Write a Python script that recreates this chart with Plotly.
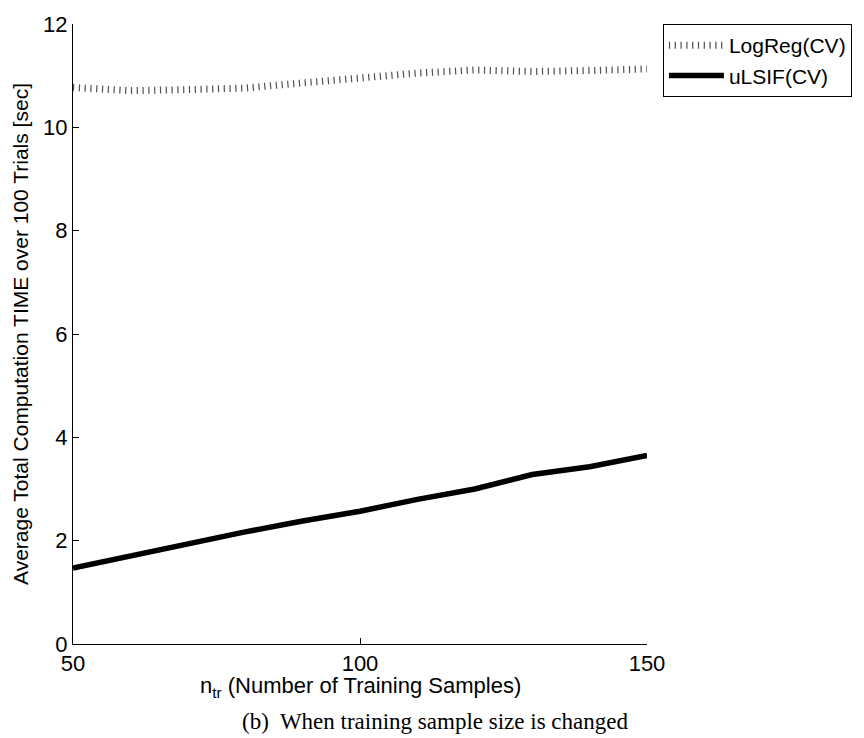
import plotly.graph_objects as go

# Number of training samples
n_tr = [50, 60, 70, 80, 90, 100, 110, 120, 130, 140, 150]

# Average total computation time over 100 trials [sec]
logreg_cv = [10.77, 10.71, 10.73, 10.76, 10.86, 10.96, 11.05, 11.11, 11.08, 11.10, 11.13]
ulsif_cv = [1.47, 1.71, 1.93, 2.17, 2.38, 2.57, 2.80, 3.00, 3.28, 3.43, 3.65]

x_ticks = [50, 100, 150]
y_ticks = [0, 2, 4, 6, 8, 10, 12]

SANS = "Liberation Sans, Arial, sans-serif"
SERIF = "Liberation Serif, Times New Roman, serif"

fig = go.Figure()
fig.add_trace(go.Scatter(
    x=n_tr, y=logreg_cv, mode="lines", name="LogReg(CV)",
    line=dict(color="#505050", width=7, dash="1.2px,4.6px"),
))
fig.add_trace(go.Scatter(
    x=n_tr, y=ulsif_cv, mode="lines", name="uLSIF(CV)",
    line=dict(color="black", width=5.5),
))

fig.update_layout(
    width=864, height=738,
    margin=dict(l=73, r=213, t=17, b=94),
    paper_bgcolor="white", plot_bgcolor="white",
    font=dict(family=SANS, size=22, color="black"),
    showlegend=True,
    legend=dict(
        x=1.0277, y=1.0, xanchor="left", yanchor="top",
        bordercolor="black", borderwidth=1, bgcolor="white",
        font=dict(family=SANS, size=21),
        tracegroupgap=0, itemwidth=55,
    ),
    xaxis=dict(
        range=[50, 150], tickvals=x_ticks, ticktext=[str(v) for v in x_ticks],
        showline=True, linecolor="black", linewidth=1, mirror=False,
        ticks="inside", ticklen=6, tickcolor="black",
        showgrid=False, zeroline=False,
        tickfont=dict(family=SANS, size=22),
    ),
    yaxis=dict(
        range=[0, 12], tickvals=y_ticks, ticktext=[str(v) for v in y_ticks],
        showline=True, linecolor="black", linewidth=1, mirror=False,
        ticks="inside", ticklen=6, tickcolor="black",
        showgrid=False, zeroline=False,
        tickfont=dict(family=SANS, size=22),
        title=dict(text="Average Total Computation TIME over 100 Trials [sec]",
                   font=dict(family=SANS, size=21), standoff=8),
    ),
    annotations=[
        dict(text="n<sub>tr</sub> (Number of Training Samples)",
             xref="paper", yref="paper", x=0.5, y=0, yanchor="middle",
             yshift=-43, showarrow=False,
             font=dict(family=SANS, size=22)),
        dict(text="(b)  When training sample size is changed",
             xref="paper", yref="paper", x=0.631, y=0, yanchor="middle",
             yshift=-77, showarrow=False,
             font=dict(family=SERIF, size=23)),
    ],
)

fig.write_html("out.html")
